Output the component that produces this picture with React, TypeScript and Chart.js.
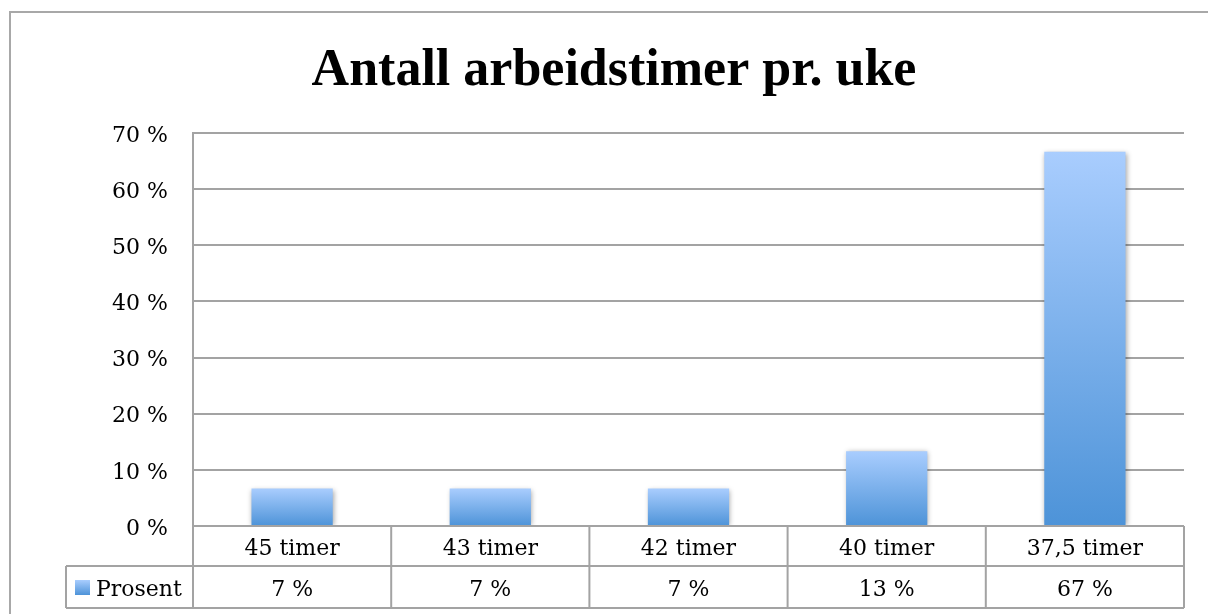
import React, { useEffect, useRef } from "react";
import { Chart, registerables } from "chart.js";

Chart.register(...registerables);

const chartTitle = "Antall arbeidstimer pr. uke";
const categories = ["45 timer", "43 timer", "42 timer", "40 timer", "37,5 timer"];
const prosent = [6.67, 6.67, 6.67, 13.33, 66.67];
const tableLabels = ["7 %", "7 %", "7 %", "13 %", "67 %"];
const seriesName = "Prosent";
const yTicks = [0, 10, 20, 30, 40, 50, 60, 70];

const SERIF = "'DejaVu Serif', serif";
const LINE = "#a3a3a3";
const GRAD_TOP = "#a9cdfe";
const GRAD_BOTTOM = "#4d93d8";

export default function App() {
  const ref = useRef<HTMLCanvasElement | null>(null);

  useEffect(() => {
    const canvas = ref.current;
    if (!canvas) return;

    const decor = {
      id: "decor",
      beforeDatasetDraw(chart: any) {
        const ctx = chart.ctx;
        ctx.save();
        ctx.shadowColor = "rgba(0,0,0,0.35)";
        ctx.shadowBlur = 5;
        ctx.shadowOffsetX = 1;
        ctx.shadowOffsetY = 1;
      },
      afterDatasetDraw(chart: any) {
        chart.ctx.restore();
      },
      afterDraw(chart: any) {
        const ctx = chart.ctx;
        const area = chart.chartArea;
        const xs = chart.scales.x;
        ctx.save();
        // outer frame
        ctx.strokeStyle = "#a8a8a8";
        ctx.lineWidth = 2;
        ctx.beginPath();
        ctx.moveTo(10, 620);
        ctx.lineTo(10, 12);
        ctx.lineTo(1215, 12);
        ctx.stroke();

        // title
        ctx.fillStyle = "#000";
        ctx.font = "bold 52px 'Liberation Serif', serif";
        ctx.textAlign = "center";
        ctx.textBaseline = "alphabetic";
        ctx.fillText(chartTitle, 614, 85);

        // data table
        const n = categories.length;
        const step = (area.right - area.left) / n;
        const r1Top = area.bottom;
        const r1Bot = area.bottom + 40;
        const r2Bot = area.bottom + 82;
        const legLeft = 66;
        ctx.strokeStyle = LINE;
        ctx.lineWidth = 2;
        ctx.beginPath();
        ctx.moveTo(area.left, r1Top);
        ctx.lineTo(area.right, r1Top);
        ctx.moveTo(legLeft, r1Bot);
        ctx.lineTo(area.right, r1Bot);
        ctx.moveTo(legLeft, r2Bot);
        ctx.lineTo(area.right, r2Bot);
        ctx.moveTo(legLeft, r1Bot);
        ctx.lineTo(legLeft, r2Bot);
        for (let i = 0; i <= n; i++) {
          const x = area.left + step * i;
          ctx.moveTo(x, r1Top);
          ctx.lineTo(x, r2Bot);
        }
        ctx.stroke();

        ctx.font = `22px ${SERIF}`;
        ctx.fillStyle = "#000";
        ctx.textAlign = "center";
        ctx.textBaseline = "middle";
        categories.forEach((c, i) => {
          const x = xs.getPixelForValue(i);
          ctx.fillText(c, x, (r1Top + r1Bot) / 2 + 3);
          ctx.fillText(tableLabels[i], x, (r1Bot + r2Bot) / 2 + 3);
        });

        // legend key
        const g = ctx.createLinearGradient(0, 580, 0, 595);
        g.addColorStop(0, GRAD_TOP);
        g.addColorStop(1, GRAD_BOTTOM);
        ctx.fillStyle = g;
        ctx.fillRect(75, 580, 15, 15);
        ctx.fillStyle = "#000";
        ctx.textAlign = "left";
        ctx.fillText(seriesName, 96, (r1Bot + r2Bot) / 2 + 3);
        ctx.restore();
      },
    };

    const barFill = (c: any) => {
      const ys = c.chart.scales && c.chart.scales.y;
      if (!ys || typeof c.raw !== "number") return GRAD_BOTTOM;
      const top = ys.getPixelForValue(c.raw);
      const base = ys.getPixelForValue(0);
      if (!isFinite(top) || !isFinite(base) || top === base) return GRAD_BOTTOM;
      const g = c.chart.ctx.createLinearGradient(0, top, 0, base);
      g.addColorStop(0, GRAD_TOP);
      g.addColorStop(1, GRAD_BOTTOM);
      return g;
    };

    const chart = new Chart(canvas, {
      type: "bar",
      data: {
        labels: categories,
        datasets: [
          {
            label: seriesName,
            data: prosent,
            backgroundColor: barFill,
            borderWidth: 0,
            barPercentage: 0.41,
            categoryPercentage: 1,
          },
        ],
      },
      options: {
        animation: false,
        responsive: false,
        maintainAspectRatio: false,
        layout: { padding: { top: 133, bottom: 88, right: 24, left: 0 } },
        plugins: {
          legend: { display: false },
          title: { display: false },
          tooltip: { enabled: false },
        },
        scales: {
          x: {
            display: false,
          },
          y: {
            min: 0,
            max: 70,
            afterFit(scale: any) {
              scale.width = 193;
            },
            afterBuildTicks(scale: any) {
              scale.ticks = yTicks.map((v) => ({ value: v }));
            },
            ticks: {
              callback: (v: any) => `${v} %`,
              font: { family: SERIF, size: 22 },
              color: "#000",
              padding: 25,
              labelOffset: 3,
            },
            grid: {
              color: LINE,
              lineWidth: 2,
              drawTicks: false,
            },
            border: { display: true, color: LINE, width: 2 },
          },
        },
      },
      plugins: [decor],
    });
    chart.update();
    return () => chart.destroy();
  }, []);

  return (
    <div style={{ position: "absolute", left: 0, top: 0, width: 1208, height: 614, background: "#fff" }}>
      <canvas ref={ref} width={1208} height={614} style={{ display: "block" }} />
    </div>
  );
}
